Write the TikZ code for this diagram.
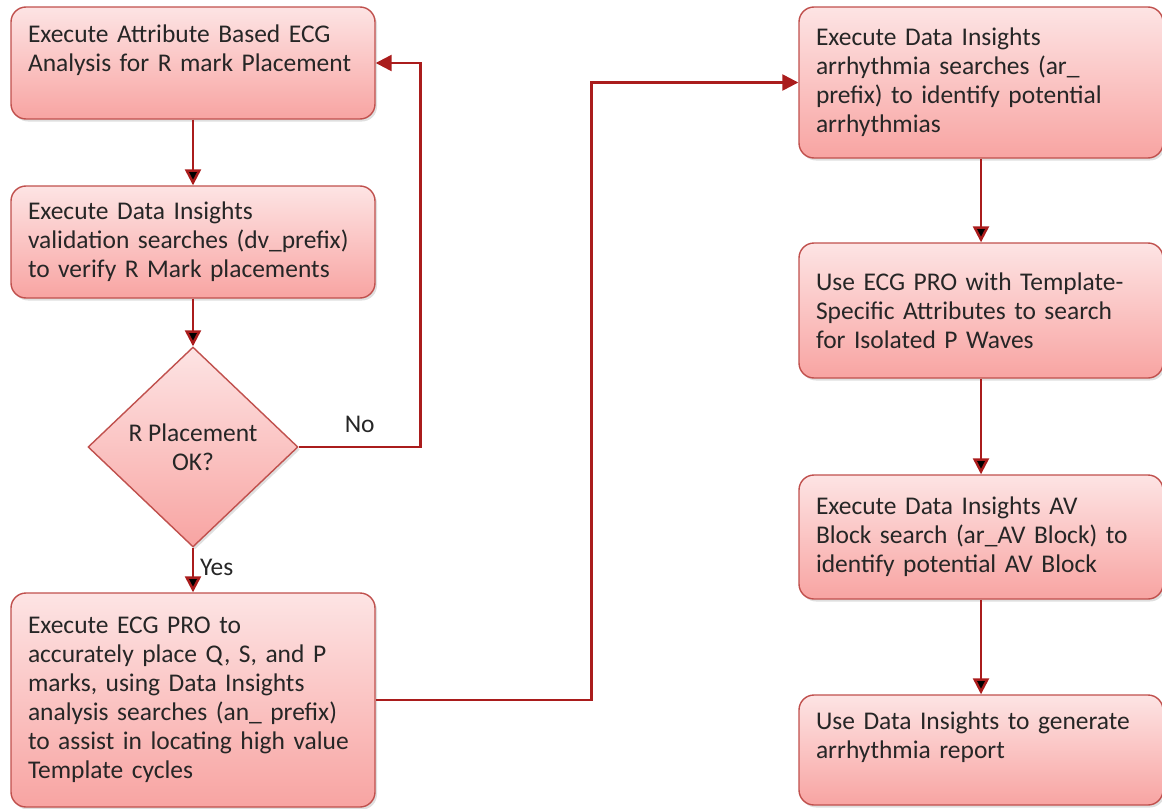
\documentclass[tikz,border=0pt]{standalone}
\usepackage{fontspec}
\setmainfont{Carlito}
\usetikzlibrary{positioning, arrows.meta, shapes.geometric, shadows}

\definecolor{boxline}{RGB}{192,80,77}
\definecolor{arrowred}{RGB}{170,28,28}
\definecolor{filltop}{RGB}{253,228,228}
\definecolor{fillbottom}{RGB}{248,164,162}
\definecolor{inktext}{RGB}{38,38,38}

\begin{document}
\begin{tikzpicture}[node distance=2cm, on grid, >={Triangle[length=0.32cm,width=0.32cm]},
    stepbox/.style={rectangle, rounded corners=0.3cm, draw=boxline, line width=0.8pt,
        top color=filltop, bottom color=fillbottom, minimum width=7.28cm,
        text width=6.6cm, align=left, inner sep=0pt, text=inktext,
        font=\fontsize{14.5}{16.5}\selectfont,
        drop shadow={opacity=0.25, shadow xshift=0.04cm, shadow yshift=-0.05cm}},
    decision/.style={diamond, draw=boxline, line width=0.8pt, top color=filltop,
        bottom color=fillbottom, minimum width=4.2cm, minimum height=4cm, inner sep=0pt,
        align=center, text=inktext, font=\fontsize{14.5}{16.5}\selectfont,
        drop shadow={opacity=0.25, shadow xshift=0.04cm, shadow yshift=-0.05cm}},
    flow/.style={->, draw=arrowred, line width=1.4pt},
    lbl/.style={text=inktext, font=\fontsize{14.5}{16.5}\selectfont}]
    \useasboundingbox (0,0) rectangle (23.24,-16.16);

    % left column
    \node[stepbox, minimum height=2.24cm] (attr) at (3.86,-1.26)
        {Execute Attribute Based ECG\\Analysis for R mark Placement\\\mbox{}};
    \node[stepbox, minimum height=2.24cm] (valid) [below=3.58cm of attr]
        {Execute Data Insights\\validation searches (dv\_prefix)\\to verify R Mark placements};
    \node[decision] (check) [below=4.1cm of valid] {R Placement\\OK?};
    \node[stepbox, minimum height=4.28cm] (ecgpro) [below=5.06cm of check]
        {Execute ECG PRO to\\accurately place Q, S, and P\\marks, using Data Insights\\analysis searches (an\_ prefix)\\to assist in locating high value\\Template cycles};

    % right column
    \node[stepbox, minimum height=3.02cm] (arrh) at (19.62,-1.65)
        {Execute Data Insights\\arrhythmia searches (ar\_\\prefix) to identify potential\\arrhythmias};
    \node[stepbox, minimum height=2.7cm] (pwave) [below=4.56cm of arrh]
        {Use ECG PRO with Template-\\Specific Attributes to search\\for Isolated P Waves};
    \node[stepbox, minimum height=2.48cm] (avblock) [below=4.53cm of pwave]
        {Execute Data Insights AV\\Block search (ar\_AV Block) to\\identify potential AV Block};
    \node[stepbox, minimum height=2.2cm] (report) [below=4.26cm of avblock]
        {Use Data Insights to generate\\arrhythmia report\\\mbox{}};

    \path[flow]
        (attr)    edge (valid)
        (valid)   edge (check)
        (check)   edge node[lbl, right, pos=0.45] {Yes} (ecgpro)
        (arrh)    edge (pwave)
        (pwave)   edge (avblock)
        (avblock) edge (report);
    \draw[flow] (check.east) -- node[lbl, above=0.15cm] {No} ++(2.44,0) |- (attr.east);
    \draw[flow] (ecgpro.east) -- ++(4.32,0) |- (arrh.west);
\end{tikzpicture}
\end{document}
